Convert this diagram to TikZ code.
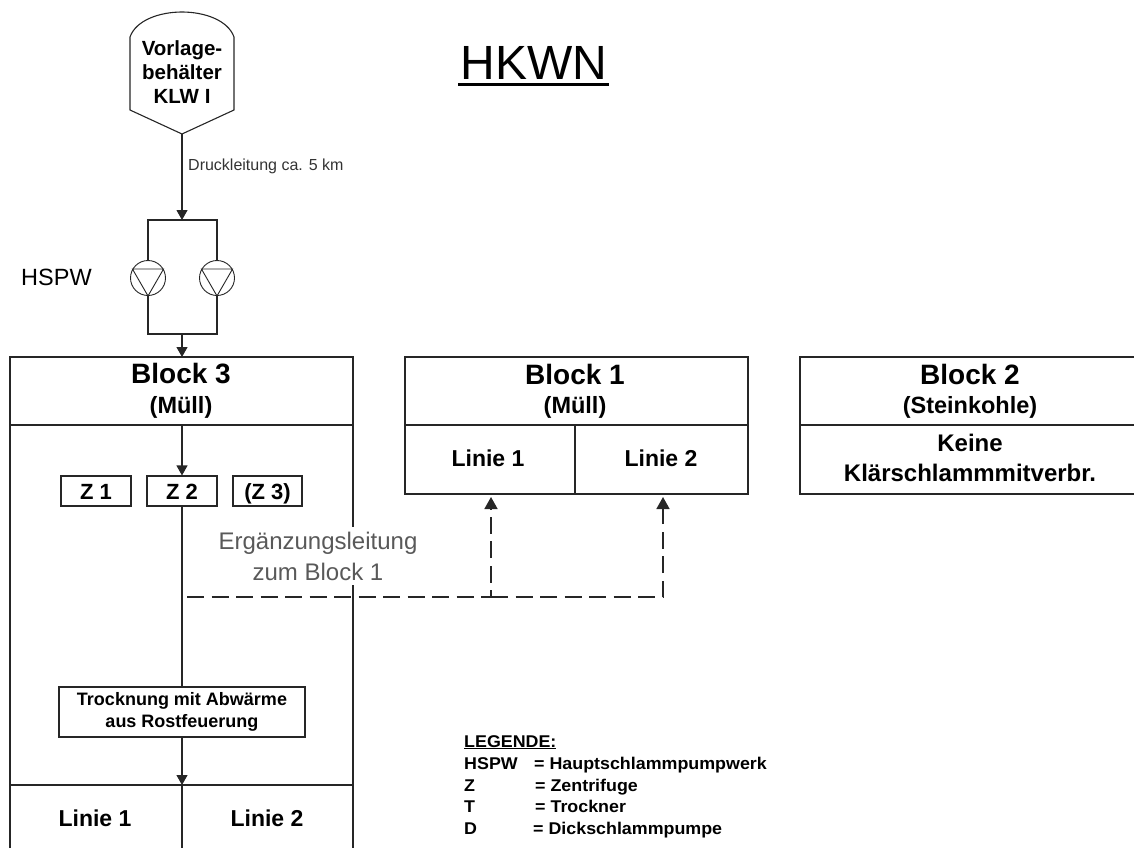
\documentclass[tikz,border=0pt]{standalone}
\usepackage{fontspec}
\setmainfont{Liberation Sans}
\usetikzlibrary{arrows.meta,calc}
\tikzset{
  x=1pt,y=-1pt,
  line/.style={draw=black!85,line width=1.1pt},
  flow/.style={line,-{Triangle[length=10pt,width=11pt]}},
  dashflow/.style={draw=black!85,line width=1.7pt,dash pattern=on 17pt off 7.5pt,-{Triangle[length=12pt,width=13pt]}},
  boxed/.style={draw=black!85,line width=1.1pt,fill=white,minimum height=30pt,inner sep=0pt,text height=16pt,text depth=0pt,font=\bfseries\fontsize{22}{24}\selectfont},
  panel/.style={line},
  head/.style={align=center,inner sep=0pt,font=\bfseries\fontsize{28}{32}\selectfont},
  sub/.style={align=center,inner sep=0pt,font=\bfseries\fontsize{23.5}{28}\selectfont},
  lin/.style={inner sep=0pt,font=\bfseries\fontsize{23}{27}\selectfont},
  leg/.style={anchor=base west,inner sep=0pt,font=\bfseries\fontsize{17}{20}\selectfont},
  pump/.style={draw=black!85,line width=0.9pt,circle,minimum size=35pt,inner sep=0pt,fill=white},
}
\newcommand{\nar}[1]{\scalebox{1.05}[1]{#1}}
\begin{document}
\begin{tikzpicture}
\useasboundingbox (0,0) rectangle (1134,848);
% tank
\draw[line] (130,37) .. controls (136,20) and (160,12) .. (182,12) .. controls (204,12) and (228,20) .. (234,37) -- (234,110) -- (182,134) -- (130,110) -- cycle;
\coordinate (tankout) at (182,134);
\node[align=center,inner sep=0pt,font=\bfseries\fontsize{20.5}{24}\selectfont] (tanktext) at (182,72) {Vorlage-\\behälter\\KLW I};
\node[anchor=west,inner sep=0pt,text=black!80,font=\fontsize{16}{19}\selectfont] (druck) at (188,166) {Druckleitung ca. 5 km};
\node[inner sep=0pt,font=\fontsize{48}{52}\selectfont] (title) at (534,63) {HKWN};
\draw[draw=black,line width=3pt] (458,85) -- (609,85);
% pumps
\coordinate (topm) at (182,220);
\coordinate (topl) at (148,220);
\coordinate (topr) at (217,220);
\coordinate (botl) at (148,334);
\coordinate (botr) at (217,334);
\coordinate (botm) at (182,334);
\node[pump] (p1) at (148,278) {};
\node[pump] (p2) at (217,278) {};
\draw[line] (p1.north) -- (topl) -- (topr) -- (p2.north);
\draw[line] (p1.south) -- (botl) -- (botr) -- (p2.south);
\foreach \p in {p1,p2}{
  \draw[draw=black!85,line width=0.9pt] (\p.150) -- (\p.30) -- (\p.south) -- cycle;
}
\node[inner sep=0pt,font=\fontsize{23.5}{28}\selectfont,anchor=west] (hspw) at (21,277) {HSPW};
\draw[flow] (tankout) -- (topm);
% Block 3
\coordinate (b3tl) at (10,357);
\coordinate (b3tr) at (353,357);
\draw[flow] (botm) -- (182,357);
\draw[panel] (10,848) -- (b3tl) -- (b3tr) -- (353,527);
\draw[panel] (353,585) -- (353,848);
\draw[panel] (10,425) -- (353,425);
\draw[panel] (10,785) -- (353,785);
\node[head] (b3h) at (181,374) {Block 3};
\node[sub] (b3s) at (181,407) {(Müll)};
\node[boxed,minimum width=70pt] (z1) at (96,491) {Z 1};
\node[boxed,minimum width=70pt] (z2) at (182,491) {Z 2};
\node[boxed,minimum width=69pt] (z3) at (267.5,491) {(Z 3)};
\coordinate (b3in) at (182,425);
\draw[flow] (b3in) -- (z2.north);
\node[draw=black!85,line width=1.1pt,fill=white,minimum width=246pt,minimum height=50pt,inner sep=0pt,align=center,font=\bfseries\fontsize{18}{22}\selectfont] (tr) at (182,712) {Trocknung mit Abwärme\\aus Rostfeuerung};
\draw[line] (z2.south) -- (tr.north);
\coordinate (l3top) at (182,785);
\draw[flow] (tr.south) -- (l3top);
\draw[line] (l3top) -- (182,848);
\node[lin] (l31) at (95,818) {Linie 1};
\node[lin] (l32) at (267,818) {Linie 2};
% Block 1
\node[draw=black!85,line width=1.1pt,minimum width=343pt,minimum height=137pt,inner sep=0pt] (b1) at (576.5,425.5) {};
\draw[line] (b1.west |- 0,425) -- (b1.east |- 0,425);
\draw[line] (575,425) -- (575,494);
\node[head] (b1h) at (575,374) {Block 1};
\node[sub] (b1s) at (575,407) {(Müll)};
\node[lin] (l11) at (488,458) {Linie 1};
\node[lin] (l12) at (661,458) {Linie 2};
% Block 2
\draw[panel] (1134,357) -- (800,357) -- (800,494) -- (1134,494);
\draw[panel] (800,425) -- (1134,425);
\node[head] (b2h) at (970,374) {Block 2};
\node[sub] (b2s) at (970,407) {(Steinkohle)};
\node[align=center,inner sep=0pt,font=\bfseries\fontsize{24}{30}\selectfont] (keine) at (970,458) {Keine\\Klärschlammmitverbr.};
% dashed
\coordinate (dstart) at (187,597);
\coordinate (dmid) at (491,597);
\coordinate (dend) at (663,597);
\coordinate (t1) at (491,497);
\coordinate (t2) at (663,497);
\draw[dashflow] (dstart) -- (dmid) -- (t1);
\draw[dashflow] (dmid) -- (dend) -- (t2);
\node[align=center,inner sep=0pt,text=black!65,font=\fontsize{24}{31}\selectfont] (erg) at (318,556) {Ergänzungsleitung\\zum Block 1};
% legend
\node[leg] (lg0) at (464,747) {\nar{\underline{LEGENDE:}}};
\node[leg] (lg1) at (464,769) {\nar{HSPW}};
\node[leg] (lg1b) at (534,769) {\nar{= Hauptschlammpumpwerk}};
\node[leg] (lg2) at (464,791) {\nar{Z}};
\node[leg] (lg2b) at (535,791) {\nar{= Zentrifuge}};
\node[leg] (lg3) at (464,812) {\nar{T}};
\node[leg] (lg3b) at (535,812) {\nar{= Trockner}};
\node[leg] (lg4) at (464,834) {\nar{D}};
\node[leg] (lg4b) at (533,834) {\nar{= Dickschlammpumpe}};
\end{tikzpicture}
\end{document}
